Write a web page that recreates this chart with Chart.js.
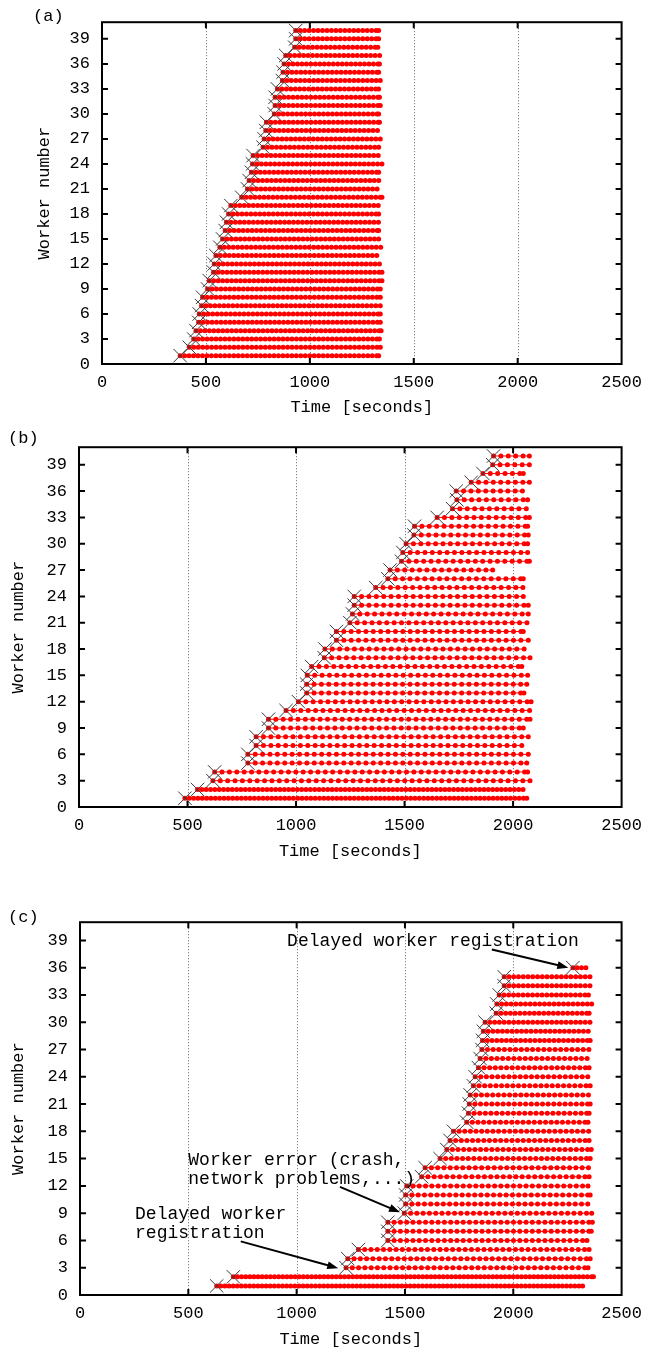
<!DOCTYPE html>
<html>
<head>
<meta charset="utf-8">
<title>Worker timelines</title>
<style>
  body { margin: 0; background: #fff; }
  .panel { position: absolute; left: 0; width: 650px; }
</style>
</head>
<body>

<div class="panel" style="top:0"><canvas id="chartA" width="650" height="425"></canvas></div>
<div class="panel" style="top:425px"><canvas id="chartB" width="650" height="475"></canvas></div>
<div class="panel" style="top:900px"><canvas id="chartC" width="650" height="452"></canvas></div>

<script src="https://cdn.jsdelivr.net/npm/chart.js@4"></script>
<script>

const xTicks = [0, 500, 1000, 1500, 2000, 2500];
const yTicks = [0, 3, 6, 9, 12, 15, 18, 21, 24, 27, 30, 33, 36, 39];

// (a) start / end time of each worker in seconds, worker 1 first
const startA = [376, 420, 441, 452, 465, 468, 479, 484, 508, 516, 537, 540, 548, 567, 580, 593, 599, 609, 620, 672,
                700, 708, 719, 724, 727, 775, 780, 788, 791, 829, 833, 833, 844, 868, 871, 876, 884, 927, 932, 932];
const endA   = [1331, 1339, 1335, 1343, 1339, 1339, 1343, 1339, 1339, 1347, 1347, 1335, 1325, 1343, 1331, 1331, 1331, 1331, 1329, 1347,
                1328, 1335, 1331, 1347, 1335, 1331, 1339, 1331, 1335, 1331, 1339, 1335, 1331, 1339, 1331, 1335, 1339, 1327, 1331, 1331];
const stepA  = 21.5;

// (b)
const startB = [488, 546, 617, 625, 778, 778, 816, 816, 873, 873, 954, 1011, 1049, 1049, 1052, 1072, 1130, 1133, 1186, 1186,
                1248, 1260, 1268, 1268, 1367, 1423, 1433, 1486, 1492, 1507, 1543, 1546, 1650, 1721, 1741, 1738, 1807, 1861, 1906, 1910];
const endB   = [2063, 2047, 2078, 2067, 2063, 2078, 2040, 2070, 2047, 2078, 2078, 2083, 2050, 2063, 2067, 2040, 2078, 2055, 2070, 2047,
                2070, 2070, 2070, 2047, 2045, 2047, 1906, 2075, 2067, 2067, 2070, 2067, 2075, 2070, 2067, 2043, 2075, 2047, 2075, 2075];
const stepB  = [20, 20, 34, 34, 34, 34, 34, 34, 34, 34, 34, 34, 34, 34, 34, 34, 34, 34, 34, 34,
                34, 34, 34, 34, 34, 34, 34, 34, 34, 34, 34, 34, 34, 34, 34, 34, 34, 34, 34, 34];

// (c)
const startC = [631, 708, 1228, 1236, 1285, 1421, 1421, 1421, 1497, 1503, 1503, 1508, 1577, 1593, 1662, 1693, 1708, 1724,
                1785, 1793, 1797, 1801, 1816, 1824, 1839, 1847, 1855, 1858, 1862, 1870, 1921, 1924, 1935, 1958, 1958, 2275];
const endC   = [2320, 2370, 2345, 2355, 2350, 2340, 2360, 2365, 2362, 2350, 2355, 2345, 2350, 2355, 2355, 2360, 2350, 2355,
                2345, 2350, 2355, 2350, 2355, 2345, 2350, 2347, 2350, 2355, 2350, 2355, 2350, 2362, 2347, 2355, 2355, 2339];
const stepC  = [19, 19, 29, 29, 29, 29, 29, 29, 29, 29, 29, 29, 29, 29, 26, 26, 26, 26,
                26, 26, 26, 26, 26, 26, 26, 26, 26, 22, 22, 22, 22, 22, 22, 22, 22, 20];

const notesC = [
  { lines: ['Delayed worker registration'], x: 956, y: 38.9, from: [1901, 38.0], to: [2254, 36.0] },
  { lines: ['Worker error (crash,', 'network problems,...)'], x: 500, y: 14.8, from: [1200, 11.9], to: [1477, 9.1] },
  { lines: ['Delayed worker', 'registration'], x: 254, y: 8.9, from: [742, 5.9], to: [1192, 2.95] },
];

const FONT = 'Liberation Mono';
Chart.defaults.color = '#000';
Chart.defaults.font.family = FONT;

function workerTimes(start, end, step) {
  const t = [];
  for (let v = start; v <= end + 0.01; v += step) t.push(v);
  if (end - t[t.length - 1] > step * 0.3) t.push(end);
  return t;
}

const framePlugin = {
  id: 'frame',
  beforeDatasetsDraw(chart) {
    const {ctx, chartArea: a, scales: {x}} = chart;
    ctx.save();
    ctx.strokeStyle = '#666';
    ctx.lineWidth = 1;
    ctx.setLineDash([1, 2]);
    xTicks.slice(1, -1).forEach(v => {
      const px = Math.round(x.getPixelForValue(v)) + 0.5;
      ctx.beginPath(); ctx.moveTo(px, a.top); ctx.lineTo(px, a.bottom); ctx.stroke();
    });
    ctx.restore();
  },
  afterDatasetsDraw(chart, args, opts) {
    const {ctx, chartArea: a, scales: {x, y}} = chart;
    ctx.save();
    ctx.strokeStyle = '#000';
    ctx.lineWidth = 2;
    ctx.strokeRect(a.left, a.top, a.right - a.left, a.bottom - a.top);
    ctx.beginPath();
    xTicks.slice(1, -1).forEach(v => {
      const px = x.getPixelForValue(v);
      ctx.moveTo(px, a.bottom); ctx.lineTo(px, a.bottom - 6);
      ctx.moveTo(px, a.top); ctx.lineTo(px, a.top + 6);
    });
    yTicks.slice(1).forEach(v => {
      const py = y.getPixelForValue(v);
      ctx.moveTo(a.left, py); ctx.lineTo(a.left + 6, py);
      ctx.moveTo(a.right, py); ctx.lineTo(a.right - 6, py);
    });
    ctx.stroke();

    ctx.fillStyle = '#000';
    ctx.font = '17px "' + FONT + '"';
    ctx.textBaseline = 'middle';
    ctx.textAlign = 'left';
    ctx.fillText(opts.tag, opts.tagX, opts.tagY);

    (opts.notes || []).forEach(n => {
      ctx.font = '18px "' + FONT + '"';
      const tx = x.getPixelForValue(n.x), ty = y.getPixelForValue(n.y);
      n.lines.forEach((l, i) => ctx.fillText(l, tx, ty + i * 19));
      const x0 = x.getPixelForValue(n.from[0]), y0 = y.getPixelForValue(n.from[1]);
      const x1 = x.getPixelForValue(n.to[0]), y1 = y.getPixelForValue(n.to[1]);
      const ang = Math.atan2(y1 - y0, x1 - x0);
      ctx.lineWidth = 2;
      ctx.beginPath();
      ctx.moveTo(x0, y0);
      ctx.lineTo(x1 - 8 * Math.cos(ang), y1 - 8 * Math.sin(ang));
      ctx.stroke();
      ctx.beginPath();
      ctx.moveTo(x1, y1);
      ctx.lineTo(x1 - 11 * Math.cos(ang) + 4 * Math.sin(ang), y1 - 11 * Math.sin(ang) - 4 * Math.cos(ang));
      ctx.lineTo(x1 - 11 * Math.cos(ang) - 4 * Math.sin(ang), y1 - 11 * Math.sin(ang) + 4 * Math.cos(ang));
      ctx.closePath();
      ctx.fill();
    });
    ctx.restore();
  }
};

function createChart(canvas_id, p) {
  const datasets = [{
    data: p.starts.map((s, i) => ({x: s, y: i + 1})),
    pointStyle: 'crossRot',
    pointRadius: 9.5,
    borderColor: '#3a3a3a',
    backgroundColor: 'transparent',
    pointBorderWidth: 1,
    showLine: false,
  }];
  p.starts.forEach((s, i) => {
    const step = Array.isArray(p.steps) ? p.steps[i] : p.steps;
    datasets.push({
      data: workerTimes(s, p.ends[i], step).map(t => ({x: t, y: i + 1})),
      showLine: true,
      borderColor: '#ff0000',
      borderWidth: 1,
      pointRadius: 2.5,
      pointBackgroundColor: '#ff0000',
      pointBorderWidth: 0,
    });
  });

  new Chart(document.getElementById(canvas_id), {
    type: 'scatter',
    data: { datasets },
    options: {
      responsive: false,
      animation: false,
      events: [],
      layout: { padding: p.padding },
      plugins: {
        legend: { display: false },
        tooltip: { enabled: false },
        frame: { tag: p.tag, tagX: p.tagX, tagY: p.tagY, notes: p.notes },
      },
      scales: {
        x: {
          type: 'linear', min: 0, max: 2500,
          grid: { display: false, drawTicks: false, tickLength: 0 },
          border: { display: false },
          afterBuildTicks: s => { s.ticks = xTicks.map(v => ({value: v})); },
          afterFit: s => { s.height = p.xAxisHeight; },
          ticks: { font: { size: 17 }, padding: 8, maxRotation: 0, callback: v => String(v) },
          title: { display: true, text: 'Time [seconds]', font: { size: 17 }, padding: 0 },
        },
        y: {
          type: 'linear', min: 0, max: 41,
          grid: { display: false, drawTicks: false, tickLength: 0 },
          border: { display: false },
          afterBuildTicks: s => { s.ticks = yTicks.map(v => ({value: v})); },
          afterFit: s => { s.width = p.yAxisWidth; },
          ticks: { font: { size: 17 }, padding: 12, callback: v => String(v) },
          title: { display: true, text: 'Worker number', font: { size: 17 }, padding: { top: p.yTitlePad, bottom: 0 } },
        },
      },
    },
    plugins: [framePlugin],
  });
}

createChart('chartA', {
  starts: startA, ends: endA, steps: stepA,
  padding: { top: 14, right: 26, bottom: 7, left: 0 },
  yAxisWidth: 102, xAxisHeight: 54, yTitlePad: 34,
  tag: '(a)', tagX: 33, tagY: 16,
});

createChart('chartB', {
  starts: startB, ends: endB, steps: stepB,
  padding: { top: 12.5, right: 28, bottom: 38, left: 0 },
  yAxisWidth: 79, xAxisHeight: 55, yTitlePad: 8,
  tag: '(b)', tagX: 8, tagY: 13,
});

createChart('chartC', {
  starts: startC, ends: endC, steps: stepC,
  padding: { top: 13, right: 28, bottom: 2, left: 0 },
  yAxisWidth: 80, xAxisHeight: 55, yTitlePad: 8,
  tag: '(c)', tagX: 8, tagY: 17,
  notes: notesC,
});

</script>

</body>
</html>
